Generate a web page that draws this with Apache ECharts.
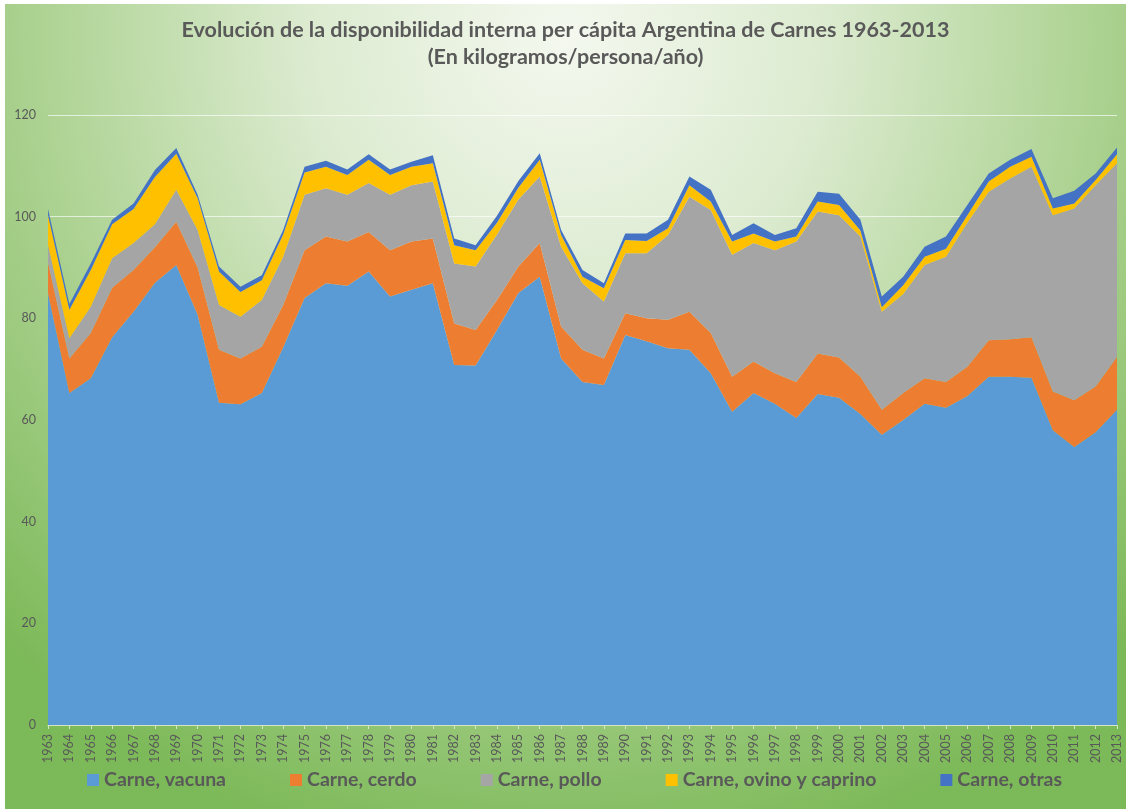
<!DOCTYPE html>
<html>
<head>
<meta charset="utf-8">
<script src="https://cdn.jsdelivr.net/npm/echarts@6/dist/echarts.min.js"></script>
<style>
  html, body { margin: 0; padding: 0; background: #ffffff; }
  #chart {
    position: absolute; left: 5px; top: 4px; width: 1121px; height: 805px;
    background: radial-gradient(ellipse 72% 105% at 50% 4%, #f4f8ef 0%, #dcebd0 32%, #acd291 66%, #7cb958 100%);
  }
</style>
</head>
<body>
<div id="chart"></div>
<script>
// años
const years = [];
for (let y = 1963; y <= 2013; y++) years.push(String(y));

// kg/persona/año
const vacuna = [85.0, 65.3, 68.2, 76.3, 81.3, 87.0, 90.5, 80.7, 63.4, 63.1,
  65.3, 74.3, 84.0, 86.9, 86.4, 89.2, 84.3, 85.6, 86.9, 70.8,
  70.7, 77.7, 85.0, 88.2, 72.1, 67.5, 66.9, 76.7, 75.5, 74.1,
  73.8, 69.2, 61.6, 65.3, 63.2, 60.4, 65.1, 64.4, 61.2, 57.1,
  60.0, 63.2, 62.4, 64.7, 68.5, 68.5, 68.3, 58.0, 54.7, 57.6, 62.0];
const cerdo = [6.0, 6.8, 8.9, 9.7, 8.2, 7.0, 8.5, 9.3, 10.4, 9.0,
  9.1, 8.3, 9.4, 9.2, 8.7, 7.8, 9.1, 9.5, 8.8, 8.2,
  7.0, 5.9, 5.2, 6.6, 6.3, 6.3, 5.2, 4.3, 4.5, 5.6,
  7.5, 7.9, 6.9, 6.2, 6.0, 7.1, 8.0, 7.9, 7.3, 4.9,
  5.3, 5.0, 5.1, 5.8, 7.2, 7.4, 8.0, 7.6, 9.2, 9.0, 10.4];
const pollo = [3.5, 4.0, 5.2, 5.8, 5.3, 4.5, 6.3, 7.4, 8.8, 8.2,
  9.2, 9.5, 10.9, 9.5, 9.2, 9.6, 10.9, 11.1, 11.2, 11.8,
  12.5, 12.9, 13.2, 13.1, 15.7, 13.1, 11.2, 11.8, 12.8, 16.7,
  22.6, 24.2, 24.0, 23.3, 24.2, 27.6, 27.9, 28.0, 27.6, 19.3,
  19.5, 22.3, 24.6, 28.3, 29.2, 31.6, 33.5, 34.7, 37.7, 39.6, 38.1];
const ovino = [5.8, 5.6, 7.2, 6.7, 6.7, 9.3, 7.1, 6.2, 6.6, 4.9,
  3.9, 4.4, 4.4, 4.2, 3.9, 4.6, 3.9, 3.6, 3.6, 3.6,
  3.2, 2.3, 2.3, 3.3, 2.3, 1.3, 2.6, 2.6, 2.4, 1.3,
  2.3, 1.7, 2.6, 1.9, 1.7, 1.0, 2.0, 2.0, 1.2, 0.9,
  1.7, 1.6, 1.6, 1.5, 2.0, 2.3, 2.0, 1.3, 1.0, 1.0, 1.8];
const otras = [1.2, 1.1, 1.3, 0.9, 1.1, 1.4, 1.1, 0.7, 1.0, 1.0,
  1.0, 0.9, 1.1, 1.2, 1.1, 1.1, 1.1, 1.0, 1.6, 1.3,
  1.0, 1.4, 1.3, 1.3, 1.0, 1.3, 1.0, 1.3, 1.5, 1.7,
  1.7, 2.3, 1.3, 2.0, 1.3, 1.6, 1.9, 2.2, 2.1, 2.1,
  1.7, 2.0, 2.4, 2.0, 1.6, 1.4, 1.5, 2.0, 2.5, 1.3, 1.3];

const seriesNames = ['Carne, vacuna', 'Carne, cerdo', 'Carne, pollo', 'Carne, ovino y caprino', 'Carne, otras'];
const seriesData = [vacuna, cerdo, pollo, ovino, otras];
const colors = ['#5b9bd5', '#ed7d31', '#a5a5a5', '#ffc000', '#4472c4'];

const font = 'Lato, "Open Sans", sans-serif';
const chart = echarts.init(document.getElementById('chart'), null, {renderer: 'canvas'});

const option = {
  color: colors,
  animation: false,
  title: {
    text: 'Evolución de la disponibilidad interna per cápita Argentina de Carnes 1963-2013\n(En kilogramos/persona/año)',
    left: 'center',
    top: 8,
    textStyle: {
      color: '#595959',
      fontFamily: font,
      fontWeight: 'bold',
      fontSize: 21.5,
      lineHeight: 27
    }
  },
  legend: {
    bottom: 14,
    left: 77,
    icon: 'rect',
    itemWidth: 12,
    itemHeight: 12,
    itemGap: 64,
    data: seriesNames,
    textStyle: {
      color: '#595959',
      fontFamily: font,
      fontWeight: 'bold',
      fontSize: 19.5
    }
  },
  grid: {left: 43, right: 9, top: 111, bottom: 84, containLabel: false},
  xAxis: {
    type: 'category',
    data: years,
    boundaryGap: false,
    axisLine: {lineStyle: {color: '#d4e6c6', width: 1}},
    axisTick: {show: true, length: 4, lineStyle: {color: '#d4e6c6'}},
    axisLabel: {
      interval: 0,
      rotate: 90,
      margin: 9,
      color: '#595959',
      fontFamily: font,
      fontSize: 12.5
    },
    splitLine: {show: false}
  },
  yAxis: {
    type: 'value',
    min: 0,
    max: 120,
    interval: 20,
    axisLine: {show: false},
    axisTick: {show: false},
    axisLabel: {
      margin: 12,
      color: '#595959',
      fontFamily: font,
      fontSize: 12.5
    },
    splitLine: {lineStyle: {color: 'rgba(255,255,255,0.65)', width: 1}}
  },
  series: seriesNames.map(function (name, i) {
    return {
      name: name,
      type: 'line',
      stack: 'total',
      data: seriesData[i],
      symbol: 'none',
      lineStyle: {width: 0},
      areaStyle: {color: colors[i], opacity: 1},
      itemStyle: {color: colors[i]}
    };
  })
};

chart.setOption(option);
</script>
</body>
</html>
